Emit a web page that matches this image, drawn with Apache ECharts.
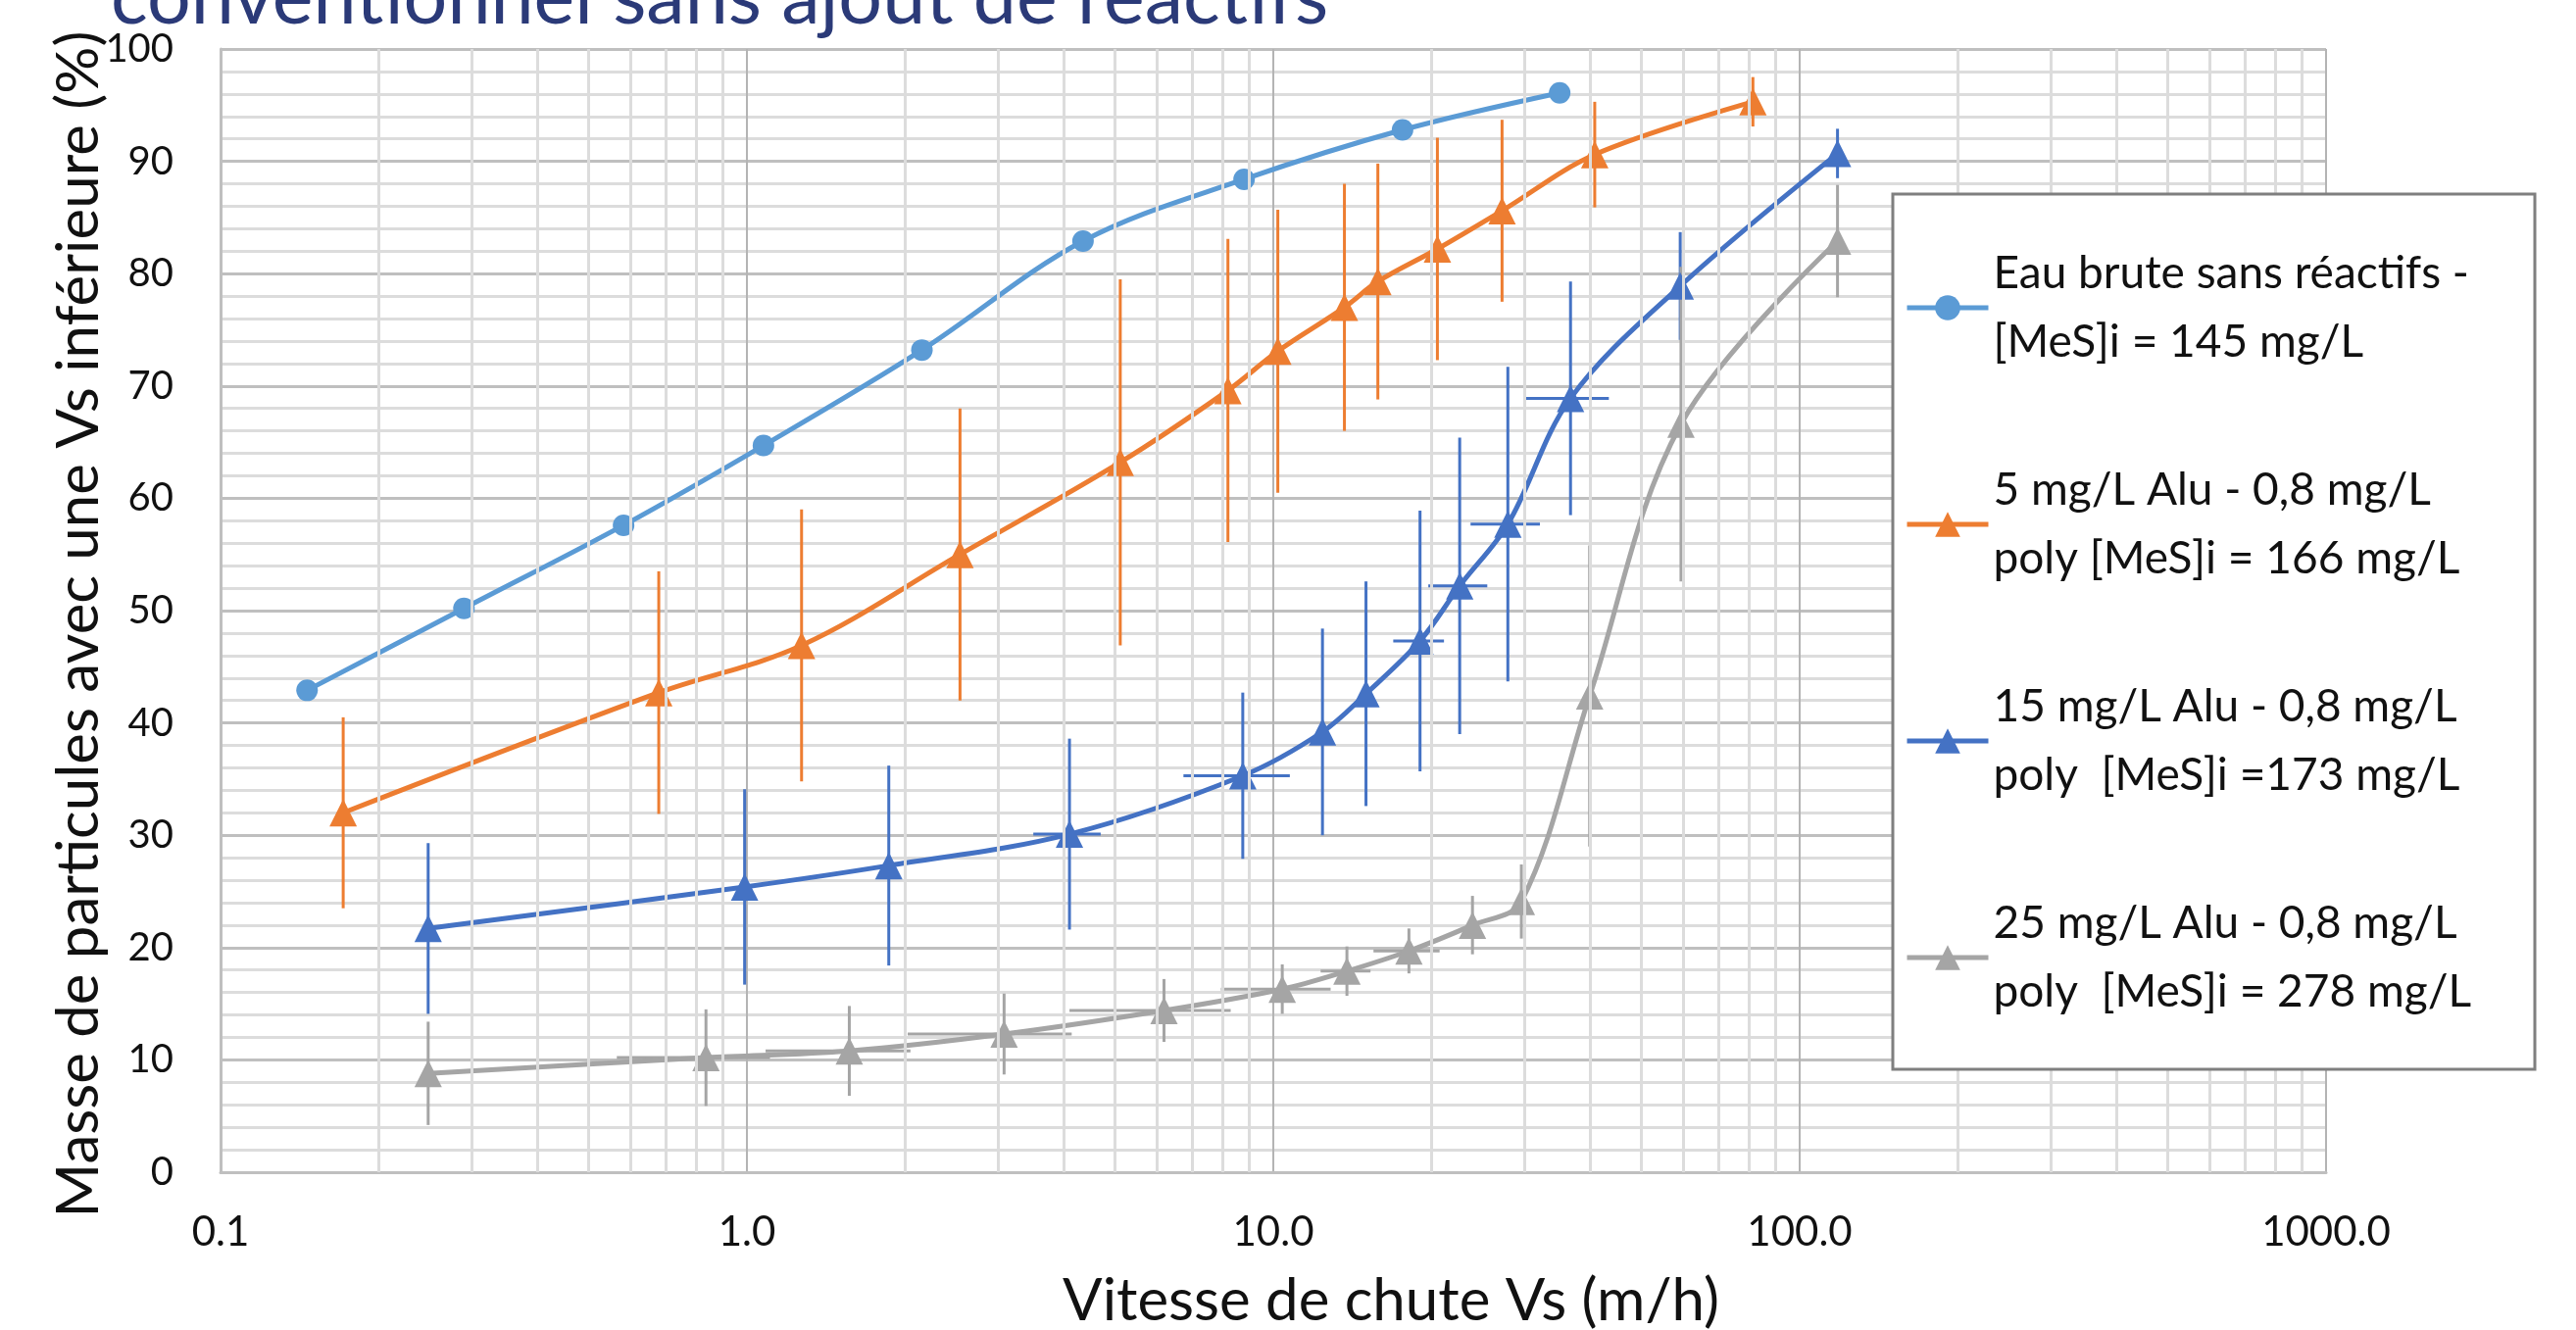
<!DOCTYPE html>
<html>
<head>
<meta charset="utf-8">
<script src="https://cdn.jsdelivr.net/npm/echarts@6/dist/echarts.min.js"></script>
<style>
  html, body { margin: 0; padding: 0; background: #fff; }
  #chart { width: 2628px; height: 1357px; }
</style>
</head>
<body>
<div id="chart"></div>
<script>
// Eau brute sans réactifs
const vsEau = [0.146, 0.290, 0.583, 1.075, 2.15, 4.35, 8.8, 17.6, 35.0];
const pEau = [42.9, 50.2, 57.6, 64.7, 73.2, 82.9, 88.4, 92.8, 96.1];

// 5 mg/L Alu
const vsAlu5 = [0.171, 0.680, 1.27, 2.54, 5.12, 8.2, 10.2, 13.65, 15.8, 20.5, 27.2, 40.8, 81.5];
const pAlu5 = [32.0, 42.7, 46.9, 55.0, 63.2, 69.6, 73.1, 77.0, 79.3, 82.2, 85.6, 90.6, 95.3];
const errAlu5 = [8.5, 10.8, 12.1, 13.0, 16.3, 13.5, 12.6, 11.0, 10.5, 9.9, 8.1, 4.7, 2.2];

// 15 mg/L Alu
const vsAlu15 = [0.248, 0.99, 1.86, 4.1, 8.75, 12.4, 15.0, 19.0, 22.6, 27.9, 36.7, 59.3, 118];
const pAlu15 = [21.7, 25.4, 27.3, 30.1, 35.3, 39.2, 42.6, 47.3, 52.2, 57.7, 68.9, 78.9, 90.7];
const errAlu15 = [7.6, 8.7, 8.9, 8.5, 7.4, 9.2, 10.0, 11.6, 13.2, 14.0, 10.4, 4.8, 2.2];
const errVsAlu15 = [0, 0, 0, 0.6, 2.0, 0, 0, 2.1, 2.9, 4.2, 6.7, 0, 0];

// 25 mg/L Alu
const vsAlu25 = [0.248, 0.836, 1.565, 3.08, 6.2, 10.4, 13.8, 18.1, 23.9, 29.6, 39.9, 59.5, 118];
const pAlu25 = [8.8, 10.2, 10.8, 12.3, 14.4, 16.3, 17.9, 19.7, 22.0, 24.1, 42.4, 66.6, 82.9];
const errAlu25 = [4.6, 4.3, 4.0, 3.6, 2.8, 2.2, 2.2, 2.0, 2.6, 3.3, 13.4, 14.0, 5.0];
const errVsAlu25 = [0, 0.27, 0.48, 1.06, 2.1, 2.45, 1.5, 2.6, 0, 0, 0, 0, 0];

const seriesNames = ['eau', 'alu5', 'alu15', 'alu25'];
const legendLabels = [
    'Eau brute sans réactifs -\n[MeS]i = 145 mg/L',
    '5 mg/L Alu - 0,8 mg/L\npoly [MeS]i = 166 mg/L',
    '15 mg/L Alu - 0,8 mg/L\npoly  [MeS]i =173 mg/L',
    '25 mg/L Alu - 0,8 mg/L\npoly  [MeS]i = 278 mg/L'
];
const colors = ['#5B9BD5', '#ED7D31', '#4472C4', '#A5A5A5'];

const FONT = 'Lato';

// minor vertical grid lines (2..9 in each decade)
const minorVs = [];
[0.1, 1, 10, 100].forEach(d => {
    for (let k = 2; k <= 9; k++) minorVs.push(+(k * d).toPrecision(3));
});

function pairs(xs, ys) {
    return xs.map((x, i) => [x, ys[i]]);
}

function errorBars(color, xs, ys, ey, ex) {
    return {
        type: 'custom',
        silent: true,
        z: 2,
        data: xs.map((x, i) => [x, ys[i], ey[i], ex ? ex[i] : 0]),
        encode: { x: 0, y: 1 },
        renderItem: function (params, api) {
            const x = api.value(0), y = api.value(1);
            const dy = api.value(2), dx = api.value(3);
            const style = { stroke: color, lineWidth: 3 };
            const children = [];
            if (dy > 0) {
                const a = api.coord([x, y - dy]), b = api.coord([x, y + dy]);
                children.push({ type: 'line', shape: { x1: a[0], y1: a[1], x2: b[0], y2: b[1] }, style: style });
            }
            if (dx > 0) {
                const a = api.coord([x - dx, y]), b = api.coord([x + dx, y]);
                children.push({ type: 'line', shape: { x1: a[0], y1: a[1], x2: b[0], y2: b[1] }, style: style });
            }
            return { type: 'group', children: children };
        }
    };
}

function curve(idx, xs, ys, symbol, size) {
    return {
        name: seriesNames[idx],
        type: 'line',
        z: 3,
        data: pairs(xs, ys),
        smooth: 0.35,
        symbol: symbol,
        symbolSize: size,
        lineStyle: { width: 5, color: colors[idx] },
        itemStyle: { color: colors[idx] }
    };
}

const chart = echarts.init(document.getElementById('chart'));

chart.setOption({
    animation: false,
    backgroundColor: '#fff',
    title: {
        text: 'conventionnel sans ajout de réactifs',
        left: 108,
        top: -46,
        textStyle: { fontFamily: FONT, fontSize: 79, fontWeight: 'normal', color: '#2B3A78' }
    },
    grid: { left: 225, right: 255, top: 50, bottom: 161, outerBoundsMode: 'none' },
    xAxis: {
        type: 'log',
        logBase: 10,
        min: 0.1,
        max: 1000,
        name: 'Vitesse de chute Vs (m/h)',
        nameLocation: 'middle',
        nameGap: 102,
        nameTextStyle: { fontFamily: FONT, fontSize: 60, color: '#111', padding: [0, 0, 0, 240] },
        axisLine: { show: true, lineStyle: { color: '#BFBFBF', width: 3 } },
        axisTick: { show: false },
        axisLabel: {
            margin: 40,
            fontFamily: FONT, fontSize: 42, color: '#111',
            formatter: v => Number(v).toFixed(1)
        },
        splitLine: { show: true, lineStyle: { color: '#B4B4B4', width: 2 } }
    },
    yAxis: {
        type: 'value',
        min: 0,
        max: 100,
        interval: 10,
        name: 'Masse de particules avec une Vs inférieure (%)',
        nameLocation: 'middle',
        nameGap: 114,
        nameMoveOverlap: false,
        nameTextStyle: { fontFamily: FONT, fontSize: 60, color: '#111', padding: [0, 28, 0, 0] },
        axisLine: { show: true, lineStyle: { color: '#BFBFBF', width: 3 } },
        axisTick: { show: false },
        axisLabel: { margin: 48, fontFamily: FONT, fontSize: 40, color: '#111' },
        splitLine: { show: true, lineStyle: { color: '#BFBFBF', width: 3 } },
        minorTick: { show: false, splitNumber: 5 },
        minorSplitLine: { show: true, lineStyle: { color: '#DCDCDC', width: 3 } }
    },
    legend: {
        orient: 'vertical',
        left: 1943,
        top: 209,
        padding: 0,
        z: 10,
        data: seriesNames,
        itemWidth: 83,
        itemHeight: 32,
        itemGap: 11,
        lineStyle: { width: 5 },
        formatter: name => legendLabels[seriesNames.indexOf(name)],
        textStyle: {
            fontFamily: FONT, fontSize: 46, color: '#111',
            lineHeight: 70, padding: [70, 0, 0, 0]
        }
    },
    graphic: [{
        type: 'rect',
        z: 8,
        shape: { x: 1931, y: 198, width: 655, height: 893 },
        style: { fill: '#fff', stroke: '#7F7F7F', lineWidth: 3 }
    }],
    series: [
        {
            type: 'line',
            data: [],
            silent: true,
            z: 1,
            markLine: {
                silent: true,
                symbol: ['none', 'none'],
                label: { show: false },
                lineStyle: { color: '#DCDCDC', width: 3, type: 'solid' },
                data: minorVs.map(v => ({ xAxis: v }))
            }
        },
        errorBars(colors[1], vsAlu5, pAlu5, errAlu5, null),
        errorBars(colors[2], vsAlu15, pAlu15, errAlu15, errVsAlu15),
        errorBars(colors[3], vsAlu25, pAlu25, errAlu25, errVsAlu25),
        curve(0, vsEau, pEau, 'circle', 22),
        curve(1, vsAlu5, pAlu5, 'triangle', 28),
        curve(2, vsAlu15, pAlu15, 'triangle', 28),
        curve(3, vsAlu25, pAlu25, 'triangle', 28)
    ]
});
</script>
</body>
</html>
